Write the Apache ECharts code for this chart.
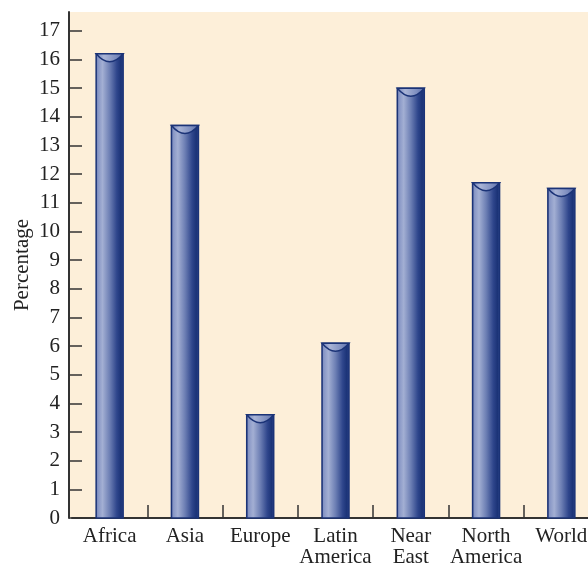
<!DOCTYPE html>
<html>
<head>
<meta charset="utf-8">
<script src="https://cdn.jsdelivr.net/npm/echarts@6/dist/echarts.min.js"></script>
<style>html,body{margin:0;padding:0;background:#fff}#c{width:588px;height:563px}</style>
</head>
<body>
<div id="c"></div>
<script>
const categories = ['Africa', 'Asia', 'Europe', 'Latin\nAmerica', 'Near\nEast', 'North\nAmerica', 'World'];
const values = [16.2, 13.7, 3.6, 6.1, 15.0, 11.7, 11.5];
const yTicks = [0,1,2,3,4,5,6,7,8,9,10,11,12,13,14,15,16,17];

const chart = echarts.init(document.getElementById('c'), null, {renderer: 'canvas'});
const FONT = 'Liberation Serif';
const navy = '#1b3377';
const peach = '#fdefd9';

function bodyGrad() {
  return new echarts.graphic.LinearGradient(0, 0, 1, 0, [
    {offset: 0, color: '#3b4f92'},
    {offset: 0.08, color: '#8594c4'},
    {offset: 0.25, color: '#a3afd3'},
    {offset: 0.5, color: '#6d7fb4'},
    {offset: 0.75, color: '#2f468c'},
    {offset: 0.9, color: '#1b3377'},
    {offset: 1, color: '#34498e'}
  ]);
}
function capGrad() {
  return new echarts.graphic.LinearGradient(0, 0, 1, 0, [
    {offset: 0, color: '#6f80b8'},
    {offset: 0.3, color: '#a9b4d6'},
    {offset: 0.7, color: '#7f8fc0'},
    {offset: 1, color: '#5a6ca8'}
  ]);
}

chart.setOption({
  animation: false,
  graphic: [{type: 'rect', left: 68, top: 12, z: -10, shape: {width: 6, height: 506}, style: {fill: peach}}],
  grid: {left: 72, top: 12, bottom: 45, width: 527, containLabel: false, outerBoundsMode: 'none',
         show: true, backgroundColor: peach, borderWidth: 0},
  xAxis: {
    type: 'category',
    data: categories,
    boundaryGap: true,
    axisLine: {lineStyle: {color: '#333', width: 2}},
    axisTick: {show: true, inside: true, length: 13, interval: function (i) { return i !== 0; }, lineStyle: {color: '#333', width: 1.5}},
    axisLabel: {interval: 0, color: '#222', fontFamily: FONT, fontSize: 21, lineHeight: 21, margin: 8}
  },
  yAxis: {
    type: 'value',
    min: 0,
    max: 17.66,
    interval: 1,
    offset: 3,
    name: 'Percentage',
    nameLocation: 'middle',
    nameRotate: 90,
    nameGap: 36,
    nameMoveOverlap: false,
    nameTextStyle: {color: '#222', fontFamily: FONT, fontSize: 21},
    splitLine: {show: false},
    axisLine: {show: true, lineStyle: {color: '#333', width: 2}},
    axisTick: {show: true, inside: true, length: 13, customValues: yTicks, lineStyle: {color: '#333', width: 1.5}},
    axisLabel: {color: '#222', fontFamily: FONT, fontSize: 21, margin: 9, customValues: yTicks}
  },
  series: [{
    type: 'custom',
    data: values.map((v, i) => [i, v]),
    encode: {x: 0, y: 1},
    renderItem: function (params, api) {
      const top = api.coord([api.value(0), api.value(1)]);
      const base = api.coord([api.value(0), 0]);
      const w = 27;
      const x0 = top[0] - w / 2, x1 = top[0] + w / 2;
      const yt = top[1], yb = base[1];
      const dip = 8;
      return {
        type: 'group',
        children: [
          {type: 'rect', shape: {x: x0, y: yt, width: w, height: yb - yt},
           style: {fill: bodyGrad(), stroke: navy, lineWidth: 1.5}},
          {type: 'path', shape: {pathData: 'M' + x0 + ' ' + yt + ' L' + x1 + ' ' + yt + ' Q' + top[0] + ' ' + (yt + 2 * dip) + ' ' + x0 + ' ' + yt + ' Z'},
           style: {fill: capGrad(), stroke: navy, lineWidth: 1.5}}
        ]
      };
    }
  }]
});
</script>
</body>
</html>
